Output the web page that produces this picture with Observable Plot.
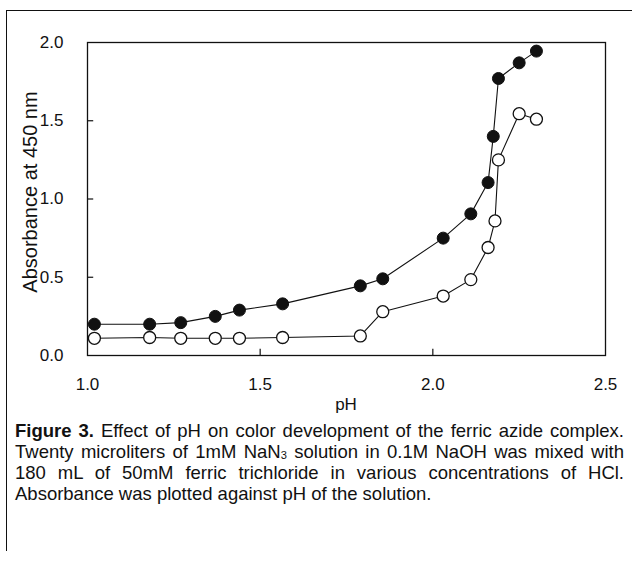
<!DOCTYPE html>
<html>
<head>
<meta charset="utf-8">
<script src="https://cdn.jsdelivr.net/npm/d3@7"></script>
<script src="https://cdn.jsdelivr.net/npm/@observablehq/plot@0.6"></script>
<style>
  body { margin: 0; background: #fff; }
  #wrap { position: relative; width: 632px; height: 565px; background: #fff; overflow: hidden; }
  #border { position: absolute; left: 6px; top: 10px; width: 630px; height: 540px;
            border-left: 1.5px solid #111; border-top: 1.5px solid #111; }
  #chart { position: absolute; left: 0; top: 0; }
  .axt { position: absolute; font-family: "Liberation Sans", Arial, sans-serif; color: #111; white-space: nowrap; }
  #ylab { left: 30px; top: 192px; font-size: 20px; transform: translate(-50%, -50%) rotate(-90deg); }
  #xlab { left: 346px; top: 405px; font-size: 17px; transform: translate(-50%, -50%); }
  #caption { position: absolute; left: 15px; top: 420px; width: 609px;
             font-family: "Liberation Sans", Arial, sans-serif;
             font-size: 18.5px; line-height: 21px; color: #111; }
  #caption .j { text-align: justify; text-align-last: justify; white-space: nowrap; }
  #caption .l { text-align: left; }
  #caption b { font-weight: bold; }
  .sub { font-size: 0.6em; position: relative; top: 0.08em; line-height: 0; }
</style>
</head>
<body>
<div id="wrap">
  <div id="border"></div>
  <div id="chart"></div>
  <div class="axt" id="ylab">Absorbance at 450 nm</div>
  <div class="axt" id="xlab">pH</div>
  <div id="caption">
    <div class="j"><b>Figure 3.</b> Effect of pH on color development of the ferric azide complex.</div>
    <div class="j">Twenty microliters of 1mM NaN<span class="sub">3</span> solution in 0.1M NaOH was mixed with</div>
    <div class="j">180 mL of 50mM ferric trichloride in various concentrations of HCl.</div>
    <div class="l">Absorbance was plotted against pH of the solution.</div>
  </div>
</div>
<script>
// Filled circles series
const filledPH = [1.02, 1.18, 1.27, 1.37, 1.44, 1.565, 1.79, 1.855, 2.03, 2.11, 2.16, 2.175, 2.19, 2.25, 2.30];
const filledAbs = [0.20, 0.20, 0.21, 0.25, 0.29, 0.33, 0.445, 0.49, 0.75, 0.905, 1.105, 1.40, 1.77, 1.87, 1.945];
// Open circles series
const openPH = [1.02, 1.18, 1.27, 1.37, 1.44, 1.565, 1.79, 1.855, 2.03, 2.11, 2.16, 2.18, 2.19, 2.25, 2.30];
const openAbs = [0.11, 0.115, 0.11, 0.11, 0.11, 0.115, 0.125, 0.28, 0.38, 0.485, 0.69, 0.86, 1.25, 1.545, 1.51];
// Axis ticks
const xTicks = [1.0, 1.5, 2.0, 2.5];
const yTicks = [0.0, 0.5, 1.0, 1.5, 2.0];

const filled = filledPH.map((x, i) => ({x, y: filledAbs[i]}));
const open = openPH.map((x, i) => ({x, y: openAbs[i]}));

const chart = Plot.plot({
  width: 632,
  height: 415,
  marginLeft: 87,
  marginRight: 27,
  marginTop: 42,
  marginBottom: 60,
  style: {fontFamily: '"Liberation Sans", Arial, sans-serif', fontSize: "17px", color: "#111", background: "transparent"},
  x: {domain: [1, 2.5]},
  y: {domain: [0, 2]},
  marks: [
    Plot.axisX({ticks: xTicks, tickFormat: d3.format(".1f"), tickSize: 0, tickPadding: 22, label: null, fontSize: 17}),
    Plot.axisY({ticks: yTicks, tickFormat: d3.format(".1f"), tickSize: 0, tickPadding: 24, label: null, fontSize: 17}),
    Plot.ruleX(xTicks.slice(1, -1), {x: d => d, y1: 0, y2: 0.04, stroke: "#111", strokeWidth: 1.2}),
    Plot.ruleY(yTicks.slice(1, -1), {y: d => d, x1: 1, x2: 1.018, stroke: "#111", strokeWidth: 1.2}),
    Plot.frame({stroke: "#111", strokeWidth: 1.3}),
    Plot.line(open, {x: "x", y: "y", stroke: "#111", strokeWidth: 1.1}),
    Plot.line(filled, {x: "x", y: "y", stroke: "#111", strokeWidth: 1.1}),
    Plot.dot(open, {x: "x", y: "y", r: 6, fill: "white", stroke: "#111", strokeWidth: 1.3}),
    Plot.dot(filled, {x: "x", y: "y", r: 6, fill: "#111", stroke: "#111", strokeWidth: 1})
  ]
});
document.getElementById("chart").appendChild(chart);
</script>
</body>
</html>
